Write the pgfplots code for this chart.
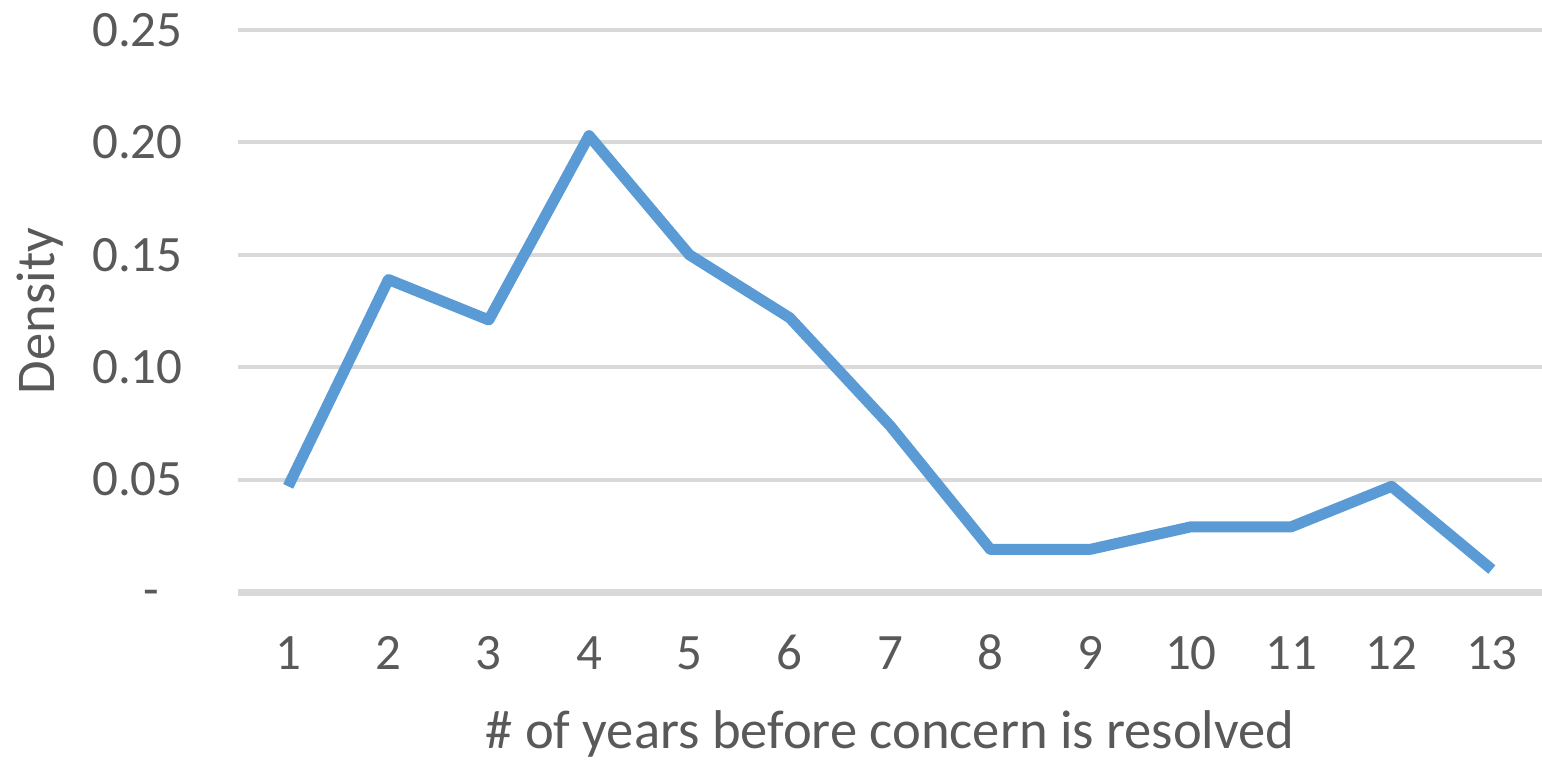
\documentclass[border=0pt]{standalone}
\usepackage{fontspec}
\setmainfont{Carlito}
\usepackage{pgfplots}
\pgfplotsset{compat=1.18}
\definecolor{linecol}{HTML}{5B9BD5}
\definecolor{gridcol}{HTML}{D9D9D9}
\definecolor{txtcol}{HTML}{595959}
\begin{document}
\begin{tikzpicture}[x=1pt,y=1pt]
\path[use as bounding box] (0,0) rectangle (771,380.5);
\begin{axis}[
  at={(119pt,84.5pt)}, anchor=south west,
  scale only axis, width=652pt, height=281pt,
  xmin=0.5, xmax=13.5, ymin=0, ymax=0.25,
  xtick={1,...,13}, ytick={0,0.05,...,0.25},
  yticklabels={{\raisebox{-7pt}[0pt][0pt]{-}\rule{11.5pt}{0pt}},0.05,0.10,0.15,0.20,0.25},
  /pgf/number format/assume math mode=true,
  axis line style={draw=none},
  tick style={draw=none},
  ymajorgrids, grid style={gridcol, line width=2pt},
  font=\fontsize{25.5}{30}\selectfont,
  ticklabel style={text=txtcol},
  yticklabel style={anchor=east, inner sep=0pt, xshift=-27.5pt},
  xticklabel style={anchor=base, inner sep=0pt, yshift=-38.5pt},
  xlabel={\# of years before concern is resolved},
  ylabel={Density},
  label style={text=txtcol, font=\fontsize{27.3}{32}\selectfont, inner sep=0pt},
  xlabel style={at={(axis description cs:0.5,0)}, anchor=base, yshift=-78pt},
  ylabel style={at={(axis description cs:0,0.5)}, anchor=base, yshift=91.5pt},
  clip=false,
]
\draw[gridcol, line width=3.5pt] (axis cs:0.5,0) -- (axis cs:13.5,0);
\addplot[linecol, line width=5.5pt, line join=round, line cap=butt, mark=none] coordinates {
  (1,0.047) (2,0.139) (3,0.121) (4,0.203) (5,0.150) (6,0.122) (7,0.074)
  (8,0.019) (9,0.019) (10,0.029) (11,0.029) (12,0.047) (13,0.010)
};
\end{axis}
\end{tikzpicture}
\end{document}
